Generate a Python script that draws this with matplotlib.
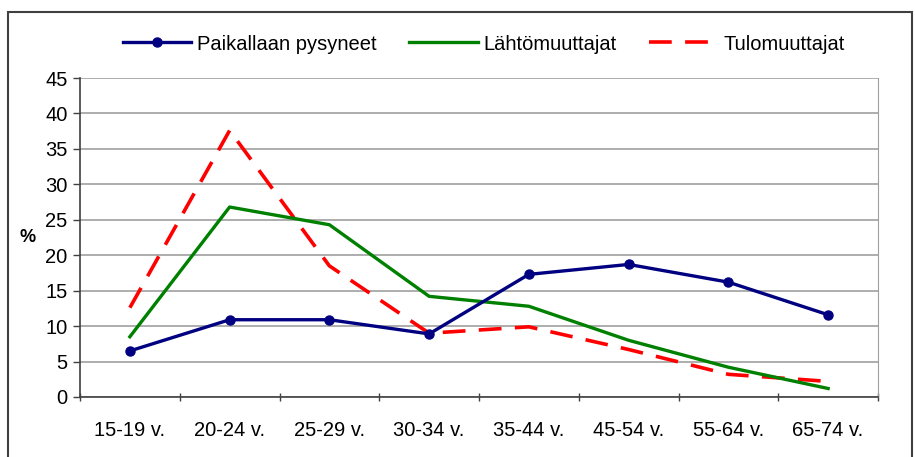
import matplotlib
matplotlib.use("Agg")
import matplotlib.pyplot as plt
from matplotlib.patches import Rectangle

categories = ["15-19 v.", "20-24 v.", "25-29 v.", "30-34 v.", "35-44 v.", "45-54 v.", "55-64 v.", "65-74 v."]
paikallaan = [6.5, 10.9, 10.9, 8.9, 17.3, 18.7, 16.2, 11.6]
lahto = [8.5, 26.8, 24.3, 14.2, 12.8, 8.0, 4.2, 1.2]
tulo = [12.6, 37.6, 18.5, 9.0, 9.9, 6.7, 3.2, 2.2]
yticks = [0, 5, 10, 15, 20, 25, 30, 35, 40, 45]

plt.rcParams['font.family'] = ['Liberation Sans', 'DejaVu Sans']

W, H = 915, 457
fig = plt.figure(figsize=(W/100, H/100), dpi=100)
ax = fig.add_axes([80/W, 1-397/H, 798/W, 319/H])

x = list(range(len(categories)))
ax.plot(x, paikallaan, color='#000080', lw=2.4, marker='o', ms=6.5, label='Paikallaan pysyneet', zorder=5)
ax.plot(x, lahto, color='#008000', lw=2.4, label='Lähtömuuttajat', zorder=4)
ax.plot(x, tulo, color='#FF0000', lw=2.6, dashes=(6.3, 3.7), label='Tulomuuttajat', zorder=3)

fs = 14.5
ax.set_xlim(-0.5, len(categories)-0.5)
ax.set_ylim(0, 45)
ax.set_yticks(yticks)
ax.set_yticklabels([str(v) for v in yticks], fontsize=fs)
ax.set_xticks(x)
ax.set_xticklabels(categories, fontsize=fs)
ax.tick_params(axis='x', which='major', length=0, pad=17)
ax.set_xticks([i-0.5 for i in range(len(categories)+1)], minor=True)
ax.tick_params(axis='x', which='minor', length=6, direction='inout', color='#404040', width=1)
ax.tick_params(axis='y', length=5, color='#404040', width=1, pad=4)
ax.grid(axis='y', color='#A0A0A0', lw=1.2)
ax.set_axisbelow(True)
ax.spines['top'].set_visible(False)
ax.spines['left'].set_color('#404040')
ax.spines['bottom'].set_color('#404040')
ax.spines['right'].set_color('#A0A0A0')
ax.spines['left'].set_linewidth(1.2)
ax.spines['bottom'].set_linewidth(1.2)

fig.text(28/W, 1-238/H, '%', fontsize=13, fontweight='bold', ha='center', va='center')

leg = fig.legend(loc='center', bbox_to_anchor=(0.529, 1-44/H), ncol=3, frameon=False,
                 fontsize=fs, handlelength=3.4, columnspacing=1.6, handletextpad=0.3)

fig.patches.append(Rectangle((8/W, -0.01), 904/W, 1-12/H+0.01, transform=fig.transFigure,
                             fill=False, edgecolor='#404040', lw=1.5))

fig.savefig('out.png', dpi=100)
